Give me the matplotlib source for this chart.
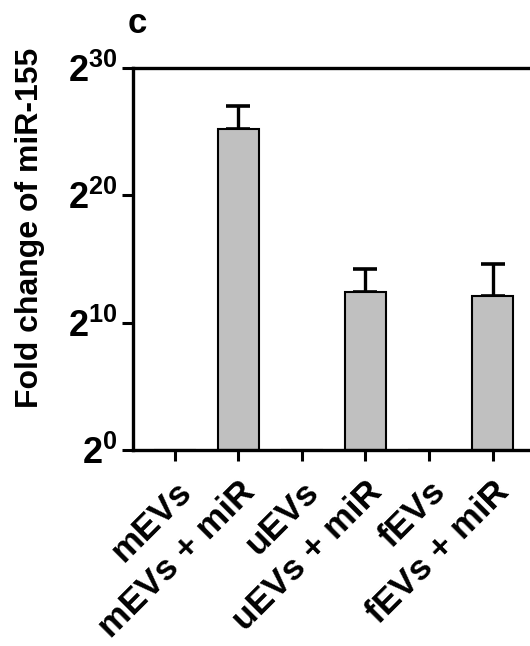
import numpy as np
import matplotlib
matplotlib.use("Agg")
import matplotlib.pyplot as plt

plt.rcParams['font.family'] = ['Liberation Sans', 'DejaVu Sans']
plt.rcParams['font.weight'] = 'bold'
plt.rcParams['mathtext.fontset'] = 'custom'
plt.rcParams['mathtext.rm'] = 'Liberation Sans:bold'
plt.rcParams['mathtext.bf'] = 'Liberation Sans:bold'
plt.rcParams['mathtext.it'] = 'Liberation Sans:bold'

# data (log2 of fold change, upper error in log2 units)
groups = ['mEVs', 'mEVs + miR', 'uEVs', 'uEVs + miR', 'fEVs', 'fEVs + miR']
log2_fold = [0.0, 25.2, 0.0, 12.4, 0.0, 12.1]
log2_upper = [0.0, 27.05, 0.0, 14.2, 0.0, 14.6]
y_ticks_exp = [0, 10, 20, 30]

fig = plt.figure(figsize=(5.30, 6.46), dpi=100)
ax = fig.add_axes([0.251, 0.3034, 0.749, 0.5913])

x = np.arange(len(groups))
heights = np.power(2.0, log2_fold)
uppers = np.power(2.0, log2_upper)

ax.bar(x, heights - 1, bottom=1, width=0.66, color='#c0c0c0',
       edgecolor='black', linewidth=1.5, zorder=2)

has_err = [i for i in range(len(groups)) if log2_upper[i] > log2_fold[i]]
ax.errorbar(x[has_err], heights[has_err],
            yerr=[np.zeros(len(has_err)), (uppers - heights)[has_err]],
            fmt='none', ecolor='black', elinewidth=2.4, capsize=8.5,
            capthick=2.6, zorder=1)

ax.set_yscale('log', base=2)
ax.set_ylim(1, 2 ** 30)
ax.set_yticks([2 ** e for e in y_ticks_exp])
ax.set_yticklabels([r'$\mathbf{2^{%d}}$' % e for e in y_ticks_exp])
ax.yaxis.set_minor_locator(matplotlib.ticker.NullLocator())
ax.set_xlim(-0.66, 5.59)
ax.set_xticks(x)
ax.set_xticklabels(groups, rotation=45, ha='right', rotation_mode='anchor',
                   fontsize=25.5, fontweight='bold')

for side in ['left', 'bottom', 'top']:
    ax.spines[side].set_linewidth(2.4)
ax.spines['right'].set_visible(False)
ax.tick_params(axis='both', width=2.2, length=8, direction='out')
ax.tick_params(axis='y', labelsize=26, pad=3)
ax.tick_params(axis='x', pad=10)

fig.text(0.057, 0.647, 'Fold change of miR-155', rotation=90, ha='center',
         va='center', fontsize=23, fontweight='bold')
fig.text(0.240, 0.949, 'c', fontsize=25, fontweight='bold')

fig.savefig('out.png', dpi=100)
